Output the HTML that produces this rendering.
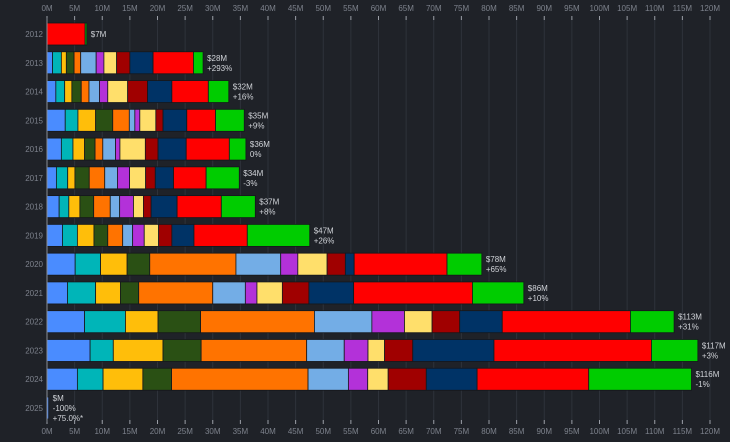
<!DOCTYPE html>
<html><head><meta charset="utf-8"><style>
html,body{margin:0;padding:0;background:#1f2228;}
svg{display:block;font-family:"Liberation Sans",sans-serif;}
</style></head><body>
<svg id="chart" width="730" height="442" viewBox="0 0 730 442">
<rect x="0" y="0" width="730" height="442" fill="#1f2228"/>
<g id="grid"></g><g id="bars"></g><g id="labels"></g><g id="axes"></g>
</svg>
<script>
const years = ["2012","2013","2014","2015","2016","2017","2018","2019","2020","2021","2022","2023","2024","2025"];
const categories = ["blue","teal","gold","dark-green","orange","light-blue","purple","light-yellow","dark-red","navy","red","green"];
const colors = ["#4a8cff","#00b5b8","#ffbe0a","#2a5014","#ff7300","#73ade6","#b331d9","#ffdf6b","#a00000","#003366","#ff0000","#00cc00"];
const v2012 = [0,0,0,0,0,0,0,0,0,0,6.9,0.3];
const v2013 = [1.0,1.6,0.9,1.4,1.2,2.8,1.4,2.3,2.4,4.2,7.3,1.75];
const v2014 = [1.6,1.6,1.3,1.7,1.4,1.9,1.5,3.6,3.6,4.4,6.6,3.7];
const v2015 = [3.3,2.3,3.2,3.1,3.0,1.0,0.9,2.9,1.3,4.3,5.2,5.2];
const v2016 = [2.6,2.1,2.1,1.9,1.4,2.3,0.8,4.6,2.3,5.1,7.8,3.0];
const v2017 = [1.7,2.05,1.3,2.6,2.8,2.3,2.2,2.9,1.75,3.3,5.9,6.0];
const v2018 = [2.2,1.75,2.0,2.5,3.0,1.7,2.5,1.8,1.4,4.7,8.0,6.15];
const v2019 = [2.8,2.7,3.0,2.5,2.7,1.8,2.1,2.6,2.4,4.0,9.65,11.3];
const v2020 = [5.1,4.6,4.8,4.1,15.6,8.1,3.1,5.3,3.3,1.6,16.8,6.3];
const v2021 = [3.7,5.1,4.5,3.3,13.4,5.9,2.1,4.6,4.8,8.1,21.5,9.3];
const v2022 = [6.8,7.4,5.9,7.7,20.6,10.4,5.9,5.0,5.0,7.7,23.2,7.9];
const v2023 = [7.8,4.2,9.0,6.9,19.1,6.8,4.3,3.0,5.1,14.7,28.5,8.4];
const v2024 = [5.5,4.65,7.2,5.2,24.7,7.3,3.5,3.7,6.9,9.2,20.2,18.6];
const v2025 = [0.3,0,0,0,0,0,0,0,0,0,0,0];
const values = [v2012,v2013,v2014,v2015,v2016,v2017,v2018,v2019,v2020,v2021,v2022,v2023,v2024,v2025];
const totalLabels = ["$7M","$28M","$32M","$35M","$36M","$34M","$37M","$47M","$78M","$86M","$113M","$117M","$116M","$M"];
const changeLabels = ["","+293%","+16%","+9%","0%","-3%","+8%","+26%","+65%","+10%","+31%","+3%","-1%","-100%"];
const extraLabels = ["","","","","","","","","","","","","","+75.0%*"];
const ticks = [0,5,10,15,20,25,30,35,40,45,50,55,60,65,70,75,80,85,90,95,100,105,110,115,120];

const NS="http://www.w3.org/2000/svg";
const x0=47, xScale=5.525;
const x = v => x0 + v*xScale;
const y = i => 34 + i*28.77;
const barH = 22;
function mk(tag, attrs, parent){const e=document.createElementNS(NS,tag);for(const k in attrs)e.setAttribute(k,attrs[k]);parent.appendChild(e);return e;}
const grid=document.getElementById('grid'), bars=document.getElementById('bars'), labels=document.getElementById('labels'), axes=document.getElementById('axes');

ticks.forEach(t=>{
  const gl=mk('line',{x1:x(t),x2:x(t),y1:18,y2:422,stroke:'#2e323a','stroke-width':1},grid);
  
  
  [[18,11],[422,434]].forEach(([ty,ly])=>{
    const tk=mk('line',{x1:x(t),x2:x(t),y1:ty-2,y2:ty+2,stroke:'#9a9ea6','stroke-width':1},axes);
    
    
    const tl=mk('text',{x:x(t),y:ly,'text-anchor':'middle','font-size':8,fill:'#7d828c'},axes);
    tl.textContent=t+'M';
    
    
  });
});
const ax=mk('line',{x1:x0,x2:x0,y1:18,y2:422,stroke:'#8a8e96','stroke-width':1},axes);



values.forEach((row,i)=>{
  const cy=y(i);
  const yl=mk('text',{x:43,y:cy+3,'text-anchor':'end','font-size':8,fill:'#7d828c'},labels);
  yl.textContent=years[i];
  
  
  let acc=0;
  row.forEach((v,j)=>{
    if(v<=0) return;
    const r=mk('rect',{x:x(acc),y:cy-barH/2,width:v*xScale,height:barH,fill:colors[j],stroke:'#15171b','stroke-width':0.8},bars);
    
    
    acc+=v;
  });
  const lx=x(acc)+4;
  const lines=[totalLabels[i],changeLabels[i],extraLabels[i]].filter(s=>s);
  const start=cy-(lines.length-1)*5+3;
  lines.forEach((s,k)=>{
    const t=mk('text',{x:lx,y:start+k*10,'font-size':8,fill:'#d0d3d8'},labels);
    t.textContent=s;
    
    
  });
});
</script>
</body></html>
